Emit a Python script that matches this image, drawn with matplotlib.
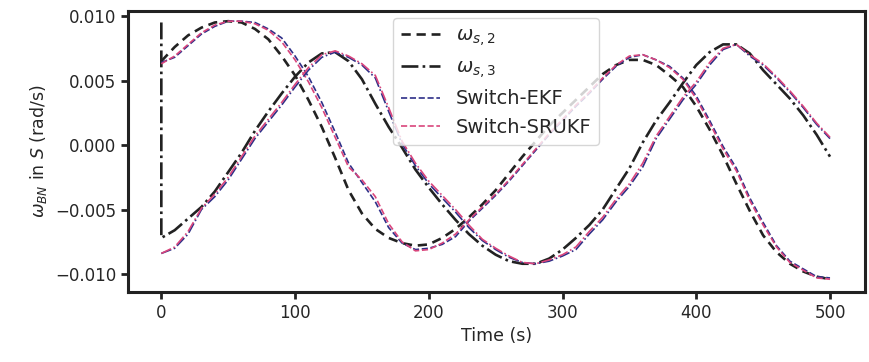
import numpy as np
import matplotlib
matplotlib.use("Agg")
import matplotlib.pyplot as plt
import seaborn as sns

# time grid (s) and values (rad/s)
t = np.arange(0, 501, 10)

w2_true = [0.0065, 0.0076, 0.0085, 0.0091, 0.0095, 0.0096, 0.0095, 0.0090, 0.0082, 0.0069,
           0.0054, 0.0035, 0.0014, -0.0010, -0.0035, -0.0053, -0.0065, -0.0072, -0.0076, -0.0078,
           -0.0077, -0.0072, -0.0065, -0.0056, -0.0046, -0.0035, -0.0022, -0.0009, 0.0003, 0.0015,
           0.0025, 0.0035, 0.0045, 0.0055, 0.0062, 0.0066, 0.0066, 0.0062, 0.0054, 0.0045,
           0.0030, 0.0012, -0.0008, -0.0030, -0.0051, -0.0070, -0.0083, -0.0092, -0.0098, -0.0102,
           -0.0104]

w3_start = 0.0095
w3_true = [-0.0072, -0.0066, -0.0057, -0.0048, -0.0036, -0.0021, -0.0006, 0.0011, 0.0026, 0.0040,
           0.0053, 0.0064, 0.0071, 0.0072, 0.0065, 0.0051, 0.0032, 0.0014, -0.0002, -0.0019,
           -0.0033, -0.0046, -0.0058, -0.0069, -0.0078, -0.0085, -0.0090, -0.0092, -0.0092, -0.0088,
           -0.0081, -0.0072, -0.0062, -0.0050, -0.0034, -0.0018, 0.0002, 0.0019, 0.0033, 0.0048,
           0.0062, 0.0072, 0.0078, 0.0078, 0.0071, 0.0058, 0.0047, 0.0036, 0.0023, 0.0008,
           -0.0009]

ekf_2 = [0.0064, 0.0068, 0.0077, 0.0086, 0.0092, 0.0096, 0.0096, 0.0095, 0.0090, 0.0083,
         0.0069, 0.0053, 0.0033, 0.0010, -0.0014, -0.0029, -0.0044, -0.0064, -0.0076, -0.0081,
         -0.0080, -0.0077, -0.0071, -0.0059, -0.0049, -0.0039, -0.0028, -0.0016, -0.0004, 0.0008,
         0.0019, 0.0030, 0.0040, 0.0051, 0.0061, 0.0068, 0.0070, 0.0066, 0.0061, 0.0052,
         0.0038, 0.0019, -0.0001, -0.0018, -0.0041, -0.0060, -0.0078, -0.0090, -0.0096, -0.0102,
         -0.0103]

srukf_2 = [0.0063, 0.0069, 0.0078, 0.0087, 0.0093, 0.0096, 0.0096, 0.0094, 0.0089, 0.0080,
           0.0066, 0.0049, 0.0029, 0.0006, -0.0017, -0.0027, -0.0040, -0.0061, -0.0075, -0.0082,
           -0.0081, -0.0076, -0.0069, -0.0058, -0.0048, -0.0038, -0.0027, -0.0015, -0.0003, 0.0009,
           0.0020, 0.0031, 0.0041, 0.0052, 0.0062, 0.0069, 0.0070, 0.0066, 0.0060, 0.0051,
           0.0036, 0.0017, -0.0003, -0.0020, -0.0043, -0.0062, -0.0079, -0.0091, -0.0097, -0.0103,
           -0.0104]

ekf_3 = [-0.0084, -0.0080, -0.0069, -0.0050, -0.0040, -0.0027, -0.0011, 0.0005, 0.0018, 0.0031,
         0.0045, 0.0058, 0.0068, 0.0072, 0.0068, 0.0062, 0.0052, 0.0026, 0.0001, -0.0016,
         -0.0030, -0.0041, -0.0052, -0.0064, -0.0074, -0.0081, -0.0087, -0.0091, -0.0092, -0.0090,
         -0.0086, -0.0081, -0.0069, -0.0058, -0.0044, -0.0032, -0.0017, 0.0005, 0.0020, 0.0035,
         0.0047, 0.0062, 0.0074, 0.0078, 0.0069, 0.0062, 0.0052, 0.0041, 0.0029, 0.0016,
         0.0005]

srukf_3 = [-0.0084, -0.0079, -0.0067, -0.0049, -0.0038, -0.0025, -0.0009, 0.0007, 0.0020, 0.0033,
           0.0047, 0.0060, 0.0070, 0.0073, 0.0069, 0.0063, 0.0054, 0.0029, 0.0003, -0.0014,
           -0.0028, -0.0039, -0.0050, -0.0062, -0.0073, -0.0080, -0.0086, -0.0091, -0.0092, -0.0089,
           -0.0085, -0.0079, -0.0067, -0.0056, -0.0042, -0.0030, -0.0014, 0.0007, 0.0022, 0.0037,
           0.0049, 0.0064, 0.0075, 0.0078, 0.0070, 0.0063, 0.0053, 0.0042, 0.0030, 0.0017,
           0.0006]

BLACK = "#222222"
BLUE = "#2e2f88"
PINK = "#d9457c"

sns.set_style("ticks")
plt.rcParams["font.family"] = ["DejaVu Sans"]
plt.rcParams["axes.unicode_minus"] = True

fig = plt.figure(figsize=(8.7, 3.62), dpi=100)
ax = fig.add_axes([0.147, 0.193, 0.847, 0.777])

ax.plot(t, w2_true, color=BLACK, ls=(0, (3.5, 2.2)), lw=1.9, label=r"$\omega_{s,2}$")
ax.plot(np.r_[0, t], np.r_[w3_start, w3_true], color=BLACK, ls="-.", lw=1.9,
        label=r"$\omega_{s,3}$")
ax.plot(t, ekf_2, color=BLUE, ls="--", lw=1.2, label="Switch-EKF")
ax.plot(t, srukf_2, color=PINK, ls="--", lw=1.2, label="Switch-SRUKF")
ax.plot(t, ekf_3, color=BLUE, ls="-.", lw=1.2)
ax.plot(t, srukf_3, color=PINK, ls="-.", lw=1.2)

ax.set_xlim(-25, 526)
ax.set_ylim(-0.0114, 0.0104)
ax.set_xticks([0, 100, 200, 300, 400, 500])
ax.set_yticks([-0.010, -0.005, 0.0, 0.005, 0.010])

for s in ax.spines.values():
    s.set_linewidth(2.2)
    s.set_color(BLACK)
ax.tick_params(labelsize=12, width=2, length=5, color=BLACK, labelcolor="#262626")

ax.set_xlabel("Time (s)", fontsize=12.5, color="#262626")
ax.set_ylabel(r"$\omega_{BN}$ in $S$ (rad/s)", fontsize=12.5, color="#262626")

ax.legend(loc="upper center", fontsize=14, frameon=True, framealpha=0.8,
          borderaxespad=0.35, handlelength=2.0)

fig.savefig("out.png", dpi=100)
